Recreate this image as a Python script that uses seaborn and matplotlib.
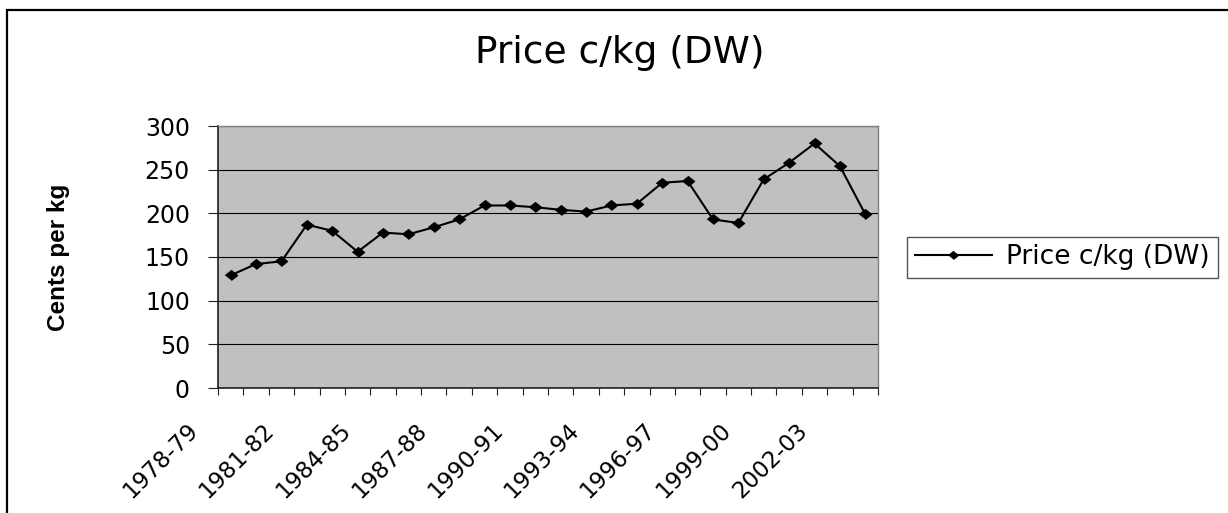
import numpy as np
import pandas as pd
import matplotlib
matplotlib.use("Agg")
import matplotlib.pyplot as plt
import seaborn as sns
from matplotlib.patches import Rectangle
from matplotlib.transforms import ScaledTranslation

seasons = ["1978-79", "1979-80", "1980-81", "1981-82", "1982-83", "1983-84",
           "1984-85", "1985-86", "1986-87", "1987-88", "1988-89", "1989-90",
           "1990-91", "1991-92", "1992-93", "1993-94", "1994-95", "1995-96",
           "1996-97", "1997-98", "1998-99", "1999-00", "2000-01", "2001-02",
           "2002-03", "2003-04"]
price = [129, 142, 145, 187, 180, 156, 178, 176, 184, 193, 209, 209, 207,
         204, 202, 209, 211, 235, 237, 193, 189, 239, 258, 280, 254, 199]
series_name = "Price c/kg (DW)"
y_ticks = [0, 50, 100, 150, 200, 250, 300]

plt.rcParams["font.family"] = ["DejaVu Sans"]

df = pd.DataFrame({"pos": np.arange(len(seasons)), "season": seasons, "price": price})

W, H = 1228, 513
fig = plt.figure(figsize=(W / 100, H / 100), dpi=100)
ax = fig.add_axes([218 / W, 1 - 388 / H, 660 / W, 262 / H])
ax.set_facecolor("#C0C0C0")

diamond = [(-1, 0), (0, 0.8), (1, 0), (0, -0.8)]
sns.lineplot(data=df, x="pos", y="price", ax=ax, color="black", lw=1.5,
             marker=diamond, markersize=9, markeredgecolor="black",
             markerfacecolor="black", label=series_name)

ax.set_xlim(-0.5, len(seasons) - 0.5)
ax.set_ylim(0, 300)
ax.set_yticks(y_ticks)
ax.yaxis.grid(True, color="black", lw=0.8)
ax.xaxis.grid(False)
ax.set_axisbelow(True)

# labels every third season, tick marks between categories (Excel style)
ax.set_xticks(df["pos"][::3])
ax.set_xticklabels(df["season"][::3], rotation=45, ha="right", va="center",
                   rotation_mode="anchor", fontsize=16.5)
ax.set_xticks(np.arange(-0.5, len(seasons), 1), minor=True)
ax.tick_params(axis="x", which="major", length=0, pad=28)
ax.tick_params(axis="x", which="minor", length=5, width=0.8, direction="out", color="#202020")
shift = ScaledTranslation(-0.36, 0, fig.dpi_scale_trans)
for lbl in ax.get_xticklabels():
    lbl.set_transform(lbl.get_transform() + shift)

ax.tick_params(axis="y", length=7.2, width=0.8, pad=13, labelsize=17, color="#202020")

ax.set_xlabel("")
ax.set_ylabel("Cents per kg", fontfamily="Liberation Sans", fontweight="bold", fontsize=17.5)
ax.yaxis.set_label_coords(-0.224, 0.5)

for side in ["left", "bottom"]:
    ax.spines[side].set_color("#202020")
    ax.spines[side].set_linewidth(1.2)
for side in ["top", "right"]:
    ax.spines[side].set_color("#808080")
    ax.spines[side].set_linewidth(1.0)

leg = ax.legend(loc="center", bbox_to_anchor=(1062.5 / W, 1 - 257.5 / H),
                bbox_transform=fig.transFigure, fontsize=19, frameon=True,
                fancybox=False, edgecolor="#555555", framealpha=1, markerscale=0.8,
                handlelength=2.9, handletextpad=0.55, borderpad=0.3, borderaxespad=0)
leg.get_frame().set_linewidth(1.0)

fig.text(619.5 / W, 1 - 53 / H, "Price c/kg (DW)", ha="center", va="center", fontsize=27)

# chart area border (only top and left edges fall inside the picture)
fig.patches.append(Rectangle((7 / W, -0.5), 2, 0.5 + (1 - 10 / H), transform=fig.transFigure,
                             fill=False, edgecolor="black", lw=1.6, clip_on=False))

fig.savefig("out.png", dpi=100)
plt.close(fig)
